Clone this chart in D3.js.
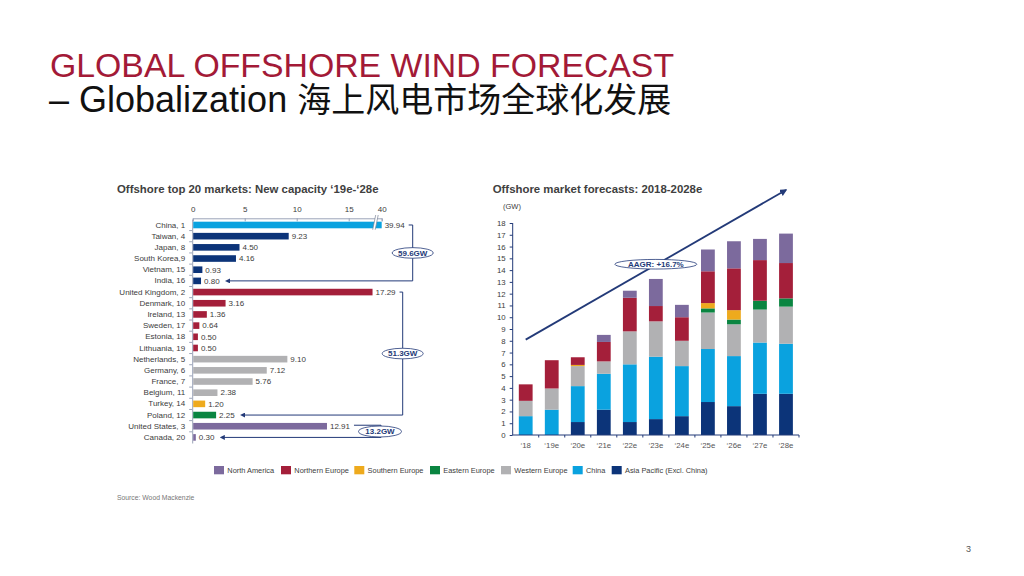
<!DOCTYPE html>
<html>
<head>
<meta charset="utf-8">
<script src="https://cdn.jsdelivr.net/npm/d3@7"></script>
<style>
  body { margin: 0; background: #fff; }
  svg { font-family: "Liberation Sans", Arial, sans-serif; }
</style>
</head>
<body>
<div id="slide"></div>
<script>
// Slide size
var svgWidth = 1024;
var svgHeight = 576;

// Left chart data: top 20 markets, new capacity '19e-'28e (GW)
var markets = ["China, 1", "Taiwan, 4", "Japan, 8", "South Korea,9", "Vietnam, 15", "India, 16",
  "United Kingdom, 2", "Denmark, 10", "Ireland, 13", "Sweden, 17", "Estonia, 18", "Lithuania, 19",
  "Netherlands, 5", "Germany, 6", "France, 7", "Belgium, 11", "Turkey, 14", "Poland, 12",
  "United States, 3", "Canada, 20"];
var capacity = [39.94, 9.23, 4.50, 4.16, 0.93, 0.80, 17.29, 3.16, 1.36, 0.64, 0.50, 0.50,
  9.10, 7.12, 5.76, 2.38, 1.20, 2.25, 12.91, 0.30];
var marketRegion = ["china", "apac", "apac", "apac", "apac", "apac", "northEU", "northEU", "northEU",
  "northEU", "northEU", "northEU", "westEU", "westEU", "westEU", "westEU", "southEU", "eastEU",
  "northAm", "northAm"];
var capTicks = [0, 5, 10, 15, 40];

// Right chart data: offshore market forecasts 2018-2028e (GW)
var years = ["\u201818", "\u201819e", "\u201820e", "\u201821e", "\u201822e", "\u201823e",
  "\u201824e", "\u201825e", "\u201826e", "\u201827e", "\u201828e"];
var apac    = [0, 0, 1.1, 2.15, 1.1, 1.35, 1.6, 2.8, 2.45, 3.5, 3.5];
var china   = [1.6, 2.15, 3.05, 3.05, 4.9, 5.3, 4.25, 4.5, 4.25, 4.35, 4.25];
var westEU  = [1.3, 1.8, 1.7, 1.05, 2.8, 3.0, 2.15, 3.1, 2.7, 2.8, 3.15];
var eastEU  = [0, 0, 0, 0, 0, 0, 0, 0.35, 0.4, 0.75, 0.7];
var southEU = [0, 0, 0.1, 0, 0, 0, 0, 0.45, 0.8, 0, 0];
var northEU = [1.4, 2.4, 0.65, 1.65, 2.85, 1.3, 2.0, 2.7, 3.55, 3.45, 3.0];
var northAm = [0, 0, 0, 0.6, 0.6, 2.3, 1.05, 1.85, 2.3, 1.8, 2.5];
var gwTicks = d3.range(0, 19);

// Legend (draw order left to right)
var legendKeys = ["northAm", "northEU", "southEU", "eastEU", "westEU", "china", "apac"];
var legendNames = ["North America", "Northern Europe", "Southern Europe", "Eastern Europe",
  "Western Europe", "China", "Asia Pacific (Excl. China)"];

var colors = {
  apac: "#0c3479",
  china: "#0aa2df",
  westEU: "#b1b1b3",
  eastEU: "#0a8541",
  southEU: "#eeaa1d",
  northEU: "#a41f3a",
  northAm: "#7c6a9d"
};
var navy = "#233a78";
var textGray = "#3c3c3c";

var svg = d3.select("#slide")
  .append("svg")
  .attr("width", svgWidth)
  .attr("height", svgHeight);

// Title
svg.append("text")
  .attr("x", 50)
  .attr("y", 77)
  .attr("fill", "#a31a37")
  .style("font-size", "33.8px")
  .text("GLOBAL OFFSHORE WIND FORECAST");

var sub = svg.append("text")
  .attr("x", 49)
  .attr("y", 112)
  .attr("fill", "#111");
sub.append("tspan")
  .style("font-size", "36px")
  .text("\u2013 Globalization ");
sub.append("tspan")
  .style("font-size", "34px")
  .style("font-family", "'Noto Sans CJK SC', sans-serif")
  .text("海上风电市场全球化发展");

// ================= Left chart =================
svg.append("text")
  .attr("x", 117)
  .attr("y", 193)
  .attr("fill", "#404040")
  .style("font-size", "11.4px")
  .style("font-weight", "bold")
  .text("Offshore top 20 markets: New capacity \u201819e-\u201828e");

var left = svg.append("g");

var xCap = d3.scaleLinear()
  .domain([0, 17.7, 40])
  .range([192.7, 376.8, 381.7]);

var yMkt = d3.scaleBand()
  .domain(markets)
  .range([219.4, 443])
  .paddingInner(0.41)
  .paddingOuter(0.205);

// top axis
var topAxis = d3.axisTop(xCap)
  .tickValues(capTicks)
  .tickSize(-3)
  .tickPadding(6);
var topG = left.append("g")
  .attr("transform", "translate(0, 218.3)")
  .call(topAxis);
topG.select(".domain").attr("stroke", "#9aa3b8");
topG.selectAll(".tick line").attr("stroke", "#9aa3b8");
topG.selectAll(".tick text")
  .attr("fill", textGray)
  .style("font-size", "8px");

// left axis
var leftAxis = d3.axisLeft(yMkt).tickSize(0).tickPadding(7);
var leftG = left.append("g")
  .attr("transform", "translate(192.2, 0)")
  .call(leftAxis);
leftG.select(".domain").attr("stroke", "#9aa3b8");
leftG.selectAll(".tick text")
  .attr("fill", textGray)
  .style("font-size", "8px");
// small ticks between rows
leftG.selectAll(".sep")
  .data(markets.slice(1))
  .enter()
  .append("line")
  .attr("x1", -3)
  .attr("x2", 0)
  .attr("y1", d => yMkt(d) - yMkt.step() * yMkt.paddingInner() / 2)
  .attr("y2", d => yMkt(d) - yMkt.step() * yMkt.paddingInner() / 2)
  .attr("stroke", "#9aa3b8");

// bars
left.selectAll("rect.mkt")
  .data(markets)
  .enter()
  .append("rect")
  .attr("class", "mkt")
  .attr("x", xCap(0) + 0.5)
  .attr("y", d => yMkt(d))
  .attr("width", (d, i) => xCap(capacity[i]) - xCap(0) - 0.5)
  .attr("height", yMkt.bandwidth())
  .attr("fill", (d, i) => colors[marketRegion[i]]);

left.selectAll("text.val")
  .data(markets)
  .enter()
  .append("text")
  .attr("class", "val")
  .attr("x", (d, i) => xCap(capacity[i]) + 3)
  .attr("y", d => yMkt(d) + yMkt.bandwidth() / 2)
  .attr("dy", "0.35em")
  .attr("fill", textGray)
  .style("font-size", "8px")
  .text((d, i) => capacity[i].toFixed(2));

// axis break on the China bar
var bx = xCap(17.45);
var breakTop = 215;
var breakBot = yMkt(markets[0]) + yMkt.bandwidth() + 1.5;
left.append("path")
  .attr("d", `M${bx - 1.5},${breakBot} L${bx + 1.5},${breakTop} L${bx + 4},${breakTop} L${bx + 1},${breakBot} Z`)
  .attr("fill", "#fff");
[bx - 1.5, bx + 1].forEach(function(x0) {
  left.append("line")
    .attr("x1", x0).attr("y1", breakBot)
    .attr("x2", x0 + 3).attr("y2", breakTop)
    .attr("stroke", "#7a8296")
    .attr("stroke-width", 0.7);
});

// bracket annotations
var defs = svg.append("defs");
defs.append("marker")
  .attr("id", "arrowSmall")
  .attr("viewBox", "0 0 10 10")
  .attr("refX", 2)
  .attr("refY", 5)
  .attr("markerWidth", 5)
  .attr("markerHeight", 5)
  .attr("orient", "auto-start-reverse")
  .append("path")
  .attr("d", "M0,0 L10,5 L0,10 Z")
  .attr("fill", navy);
defs.append("marker")
  .attr("id", "arrowBig")
  .attr("viewBox", "0 0 10 10")
  .attr("refX", 8)
  .attr("refY", 5)
  .attr("markerWidth", 4)
  .attr("markerHeight", 4)
  .attr("orient", "auto")
  .append("path")
  .attr("d", "M0,0 L10,5 L0,10 Z")
  .attr("fill", navy);

function rowY(i) { return yMkt(markets[i]) + yMkt.bandwidth() / 2; }

var brackets = [
  { from: 0, to: 5, x: 412.7, label: "59.6GW" },
  { from: 6, to: 17, x: 402.7, label: "51.3GW" }
];
brackets.forEach(function(b) {
  var startX = xCap(capacity[b.from]) + 27;
  var endX = xCap(capacity[b.to]) + 24;
  left.append("path")
    .attr("d", `M${startX},${rowY(b.from)} H${b.x} V${rowY(b.to)} H${endX + 4}`)
    .attr("fill", "none")
    .attr("stroke", navy)
    .attr("stroke-width", 1)
    .attr("marker-end", "url(#arrowSmall)");
  var cy = (rowY(b.from) + rowY(b.to)) / 2;
  left.append("ellipse")
    .attr("cx", b.x).attr("cy", cy)
    .attr("rx", 20.5).attr("ry", 5.3)
    .attr("fill", "#fff")
    .attr("stroke", navy)
    .attr("stroke-width", 0.8);
  left.append("text")
    .attr("x", b.x).attr("y", cy)
    .attr("dy", "0.35em")
    .attr("text-anchor", "middle")
    .attr("fill", navy)
    .style("font-size", "8px")
    .style("font-weight", "bold")
    .text(b.label);
});

// North America bracket
var usY = rowY(18) - 1, caY = rowY(19);
left.append("path")
  .attr("d", `M${xCap(capacity[18]) + 27},${usY} H381 V${caY} H${xCap(capacity[19]) + 28}`)
  .attr("fill", "none")
  .attr("stroke", navy)
  .attr("stroke-width", 1)
  .attr("marker-end", "url(#arrowSmall)");
left.append("ellipse")
  .attr("cx", 380).attr("cy", 431.5)
  .attr("rx", 21.5).attr("ry", 5.5)
  .attr("fill", "#fff")
  .attr("stroke", navy)
  .attr("stroke-width", 0.8);
left.append("text")
  .attr("x", 380).attr("y", 431.5)
  .attr("dy", "0.35em")
  .attr("text-anchor", "middle")
  .attr("fill", navy)
  .style("font-size", "8px")
  .style("font-weight", "bold")
  .text("13.2GW");

// ================= Right chart =================
svg.append("text")
  .attr("x", 492.7)
  .attr("y", 193)
  .attr("fill", "#404040")
  .style("font-size", "11.4px")
  .style("font-weight", "bold")
  .text("Offshore market forecasts: 2018-2028e");

var right = svg.append("g");

right.append("text")
  .attr("x", 503)
  .attr("y", 209)
  .attr("fill", textGray)
  .style("font-size", "7.5px")
  .text("(GW)");

var xYear = d3.scaleBand()
  .domain(years)
  .range([512.7, 799])
  .paddingInner(0.47)
  .paddingOuter(0.235);

var yGW = d3.scaleLinear()
  .domain([0, 18])
  .range([435, 223]);

var seriesKeys = ["apac", "china", "westEU", "eastEU", "southEU", "northEU", "northAm"];
var seriesVals = { apac: apac, china: china, westEU: westEU, eastEU: eastEU,
  southEU: southEU, northEU: northEU, northAm: northAm };
var table = years.map(function(y, i) {
  var row = { year: y };
  seriesKeys.forEach(k => { row[k] = seriesVals[k][i]; });
  return row;
});
var stacked = d3.stack().keys(seriesKeys)(table);

right.selectAll("g.layer")
  .data(stacked)
  .enter()
  .append("g")
  .attr("class", "layer")
  .attr("fill", d => colors[d.key])
  .selectAll("rect")
  .data(d => d)
  .enter()
  .append("rect")
  .attr("x", d => xYear(d.data.year))
  .attr("y", d => yGW(d[1]))
  .attr("width", xYear.bandwidth())
  .attr("height", d => yGW(d[0]) - yGW(d[1]));

// y axis
var yAxis = d3.axisLeft(yGW).tickValues(gwTicks).tickSize(3).tickPadding(4);
var yG = right.append("g")
  .attr("transform", "translate(512.7, 0)")
  .call(yAxis);
yG.select(".domain").attr("stroke", navy).attr("d", "M0,223V435");
yG.selectAll(".tick line").attr("stroke", navy);
yG.selectAll(".tick text")
  .attr("fill", textGray)
  .style("font-size", "7.8px");

// x axis
var xAxis = d3.axisBottom(xYear).tickSize(0).tickPadding(7);
var xG = right.append("g")
  .attr("transform", "translate(0, 435)")
  .call(xAxis);
xG.select(".domain").attr("stroke", navy).attr("d", "M512.7,0H799");
xG.selectAll(".tick text")
  .attr("fill", "#555")
  .style("font-size", "7.8px");
xG.selectAll(".sep")
  .data(years)
  .enter()
  .append("line")
  .attr("x1", (d, i) => xYear(years[i]) + xYear.bandwidth() + xYear.step() * 0.235)
  .attr("x2", (d, i) => xYear(years[i]) + xYear.bandwidth() + xYear.step() * 0.235)
  .attr("y1", 0)
  .attr("y2", 2.5)
  .attr("stroke", navy);

// growth arrow
var ax0 = xYear(years[0]) + xYear.bandwidth() / 2;
var ax1 = xYear(years[10]) + xYear.bandwidth() / 2;
right.append("line")
  .attr("x1", ax0).attr("y1", yGW(8.1))
  .attr("x2", ax1).attr("y2", yGW(20.8))
  .attr("stroke", navy)
  .attr("stroke-width", 1.8)
  .attr("marker-end", "url(#arrowBig)");

var agX = xYear(years[5]) + xYear.bandwidth() / 2;
right.append("ellipse")
  .attr("cx", agX).attr("cy", yGW(14.5))
  .attr("rx", 41).attr("ry", 4.8)
  .attr("fill", "#fff")
  .attr("stroke", navy)
  .attr("stroke-width", 0.8);
right.append("text")
  .attr("x", agX).attr("y", yGW(14.5))
  .attr("dy", "0.35em")
  .attr("text-anchor", "middle")
  .attr("fill", navy)
  .style("font-size", "8px")
  .style("font-weight", "bold")
  .text("AAGR: +16.7%");

// ================= Legend =================
var legendX = [214, 281, 354.3, 430, 501, 572.7, 611.7];
var legend = svg.append("g");
legendKeys.forEach(function(k, i) {
  legend.append("rect")
    .attr("x", legendX[i]).attr("y", 466)
    .attr("width", 10).attr("height", 8.3)
    .attr("fill", colors[k]);
  legend.append("text")
    .attr("x", legendX[i] + 13.3).attr("y", 470.2)
    .attr("dy", "0.35em")
    .attr("fill", textGray)
    .style("font-size", "7.4px")
    .text(legendNames[i]);
});

// footer
svg.append("text")
  .attr("x", 117).attr("y", 500)
  .attr("fill", "#777")
  .style("font-size", "6.8px")
  .text("Source: Wood Mackenzie");

svg.append("text")
  .attr("x", 966).attr("y", 552)
  .attr("fill", "#555")
  .style("font-size", "9px")
  .text("3");
</script>
</body>
</html>
